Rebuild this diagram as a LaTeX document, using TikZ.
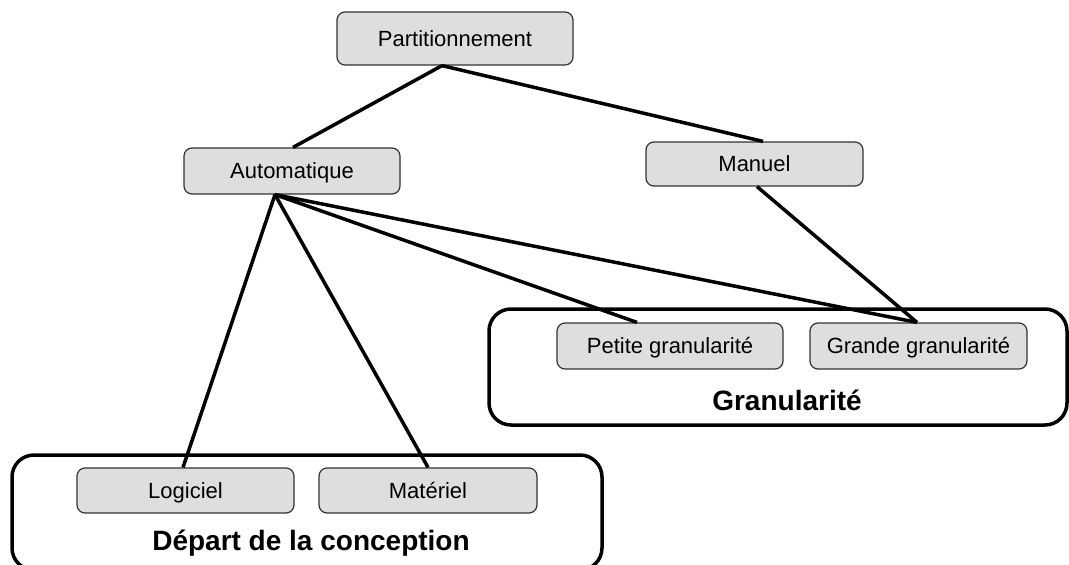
\documentclass[tikz,border=0pt]{standalone}
\usepackage{fontspec}
\setmainfont{Liberation Sans}
\definecolor{boxgray}{gray}{0.87}
\definecolor{edgegray}{gray}{0.2}
\begin{document}
\begin{tikzpicture}[x=1pt,y=-1pt,
  box/.style={draw=edgegray, line width=1.2pt, fill=boxgray, rounded corners=8pt,
    inner sep=0pt, text height=15.8pt, text depth=0pt, font=\fontsize{22}{26}\selectfont},
  group/.style={draw=black, line width=3.5pt, rounded corners=22pt, inner sep=0pt},
  grouplabel/.style={font=\fontsize{28}{32}\selectfont\bfseries, inner sep=0pt, anchor=base},
  link/.style={line width=3.5pt}]
\useasboundingbox (0,0) rectangle (1069,565);

% grouping frames
\node[group, minimum width=578pt, minimum height=116pt] (ggran) at (778,367) {};
\node[group, minimum width=590pt, minimum height=115pt] (gdep) at (307,512.5) {};
\node[grouplabel] (lgran) at (787,410) {Granularité};
\node[grouplabel] (ldep) at (311,550) {Départ de la conception};

% boxes
\node[box, minimum width=236pt, minimum height=53pt] (part) at (455,38.5) {Partitionnement};
\node[box, minimum width=216pt, minimum height=46pt] (auto) at (292,171) {Automatique};
\node[box, minimum width=217pt, minimum height=44pt] (man) at (754.5,164) {Manuel};
\node[box, minimum width=226pt, minimum height=46pt] (pet) at (670,346) {Petite granularité};
\node[box, minimum width=217pt, minimum height=46pt] (gra) at (918.5,346) {Grande granularité};
\node[box, minimum width=217pt, minimum height=45pt] (log) at (185.5,490.5) {Logiciel};
\node[box, minimum width=218pt, minimum height=45pt] (mat) at (428,490.5) {Matériel};

% connectors
\draw[link] ([xshift=-13pt]part.south) -- ([xshift=1pt]auto.north);
\draw[link] ([xshift=-13pt]part.south) -- ([xshift=8.5pt]man.north);
\draw[link] ([xshift=-17pt]auto.south) -- ([xshift=-2.5pt]log.north);
\draw[link] ([xshift=-17pt]auto.south) -- (mat.north);
\draw[link] ([xshift=-17pt]auto.south) -- ([xshift=-33pt]pet.north);
\draw[link] ([xshift=-17pt]auto.south) -- ([xshift=-1.5pt]gra.north);
\draw[link] ([xshift=2.5pt]man.south) -- ([xshift=-1.5pt]gra.north);
\end{tikzpicture}
\end{document}
